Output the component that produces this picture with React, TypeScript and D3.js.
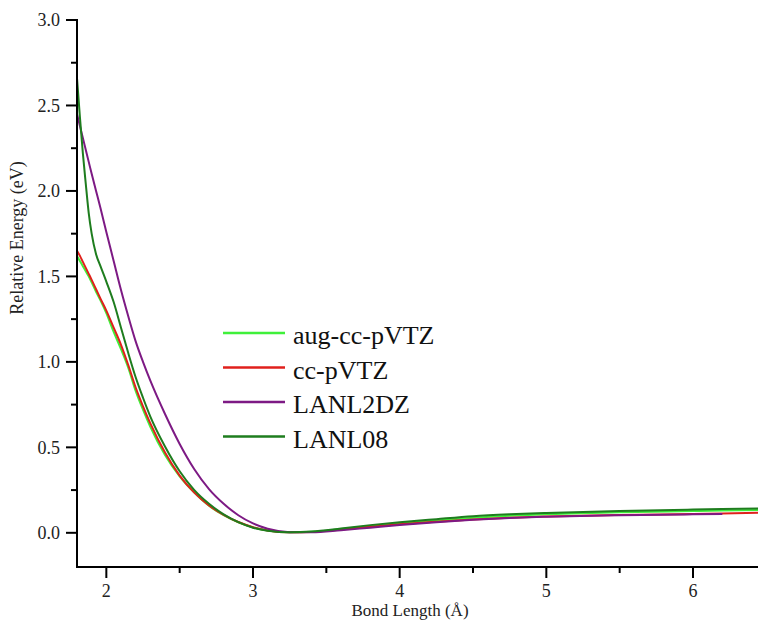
import React from "react";
import * as d3 from "d3";

const xs = [1.8, 1.82, 1.84, 1.86, 1.88, 1.9, 1.93, 1.96, 2.0, 2.05, 2.1, 2.15, 2.2, 2.25, 2.3, 2.4, 2.5, 2.6, 2.7, 2.8, 2.9, 3.0, 3.1, 3.25, 3.4, 3.6, 3.8, 4.0, 4.25, 4.5, 4.75, 5.0, 5.5, 6.0, 6.2, 6.45];

const augccpVTZ = [1.62, 1.59, 1.56, 1.53, 1.50, 1.465, 1.41, 1.36, 1.285, 1.175, 1.075, 0.965, 0.83, 0.72, 0.62, 0.455, 0.33, 0.235, 0.158, 0.103, 0.062, 0.032, 0.014, 0.003, 0.006, 0.022, 0.04, 0.055, 0.072, 0.088, 0.1, 0.108, 0.12, 0.127, 0.13, 0.133];
const ccpVTZ = [1.65, 1.62, 1.585, 1.55, 1.515, 1.48, 1.425, 1.37, 1.30, 1.20, 1.10, 0.98, 0.85, 0.74, 0.64, 0.47, 0.335, 0.235, 0.16, 0.105, 0.063, 0.033, 0.014, 0.003, 0.005, 0.02, 0.035, 0.05, 0.065, 0.078, 0.088, 0.095, 0.104, 0.11, 0.113, 0.118];
const lanl2dzX = xs.filter((x) => x <= 6.2);
const lanl2dz = [2.45, 2.38, 2.31, 2.24, 2.17, 2.1, 2.0, 1.9, 1.76, 1.59, 1.42, 1.265, 1.12, 1.0, 0.89, 0.695, 0.52, 0.372, 0.256, 0.17, 0.103, 0.055, 0.024, 0.004, 0.003, 0.015, 0.03, 0.045, 0.062, 0.076, 0.087, 0.094, 0.103, 0.108, 0.11];
const lanl08 = [2.66, 2.43, 2.22, 2.04, 1.87, 1.75, 1.63, 1.56, 1.47, 1.35, 1.2, 1.05, 0.91, 0.79, 0.68, 0.505, 0.36, 0.25, 0.17, 0.108, 0.062, 0.03, 0.012, 0.003, 0.007, 0.025, 0.045, 0.062, 0.08, 0.097, 0.108, 0.116, 0.128, 0.136, 0.139, 0.143];

const seriesNames = ["aug-cc-pVTZ", "cc-pVTZ", "LANL2DZ", "LANL08"];
const seriesColors = ["#3ff03a", "#e0201c", "#7d1a84", "#1e7d1e"];

const xMajorTicks = [2, 3, 4, 5, 6];
const xMinorTicks = [2.5, 3.5, 4.5, 5.5];
const yMajorTicks = [0, 0.5, 1.0, 1.5, 2.0, 2.5, 3.0];
const yMinorTicks = [0.25, 0.75, 1.25, 1.75, 2.25, 2.75];

const W = 758;
const H = 621;
const left = 77;
const top = 20;
const bottom = 567;
const right = 759;

const font = "'Liberation Serif', 'Times New Roman', Times, serif";
const ts = { fontFamily: font };

export default function App() {
  const x = d3.scaleLinear().domain([1.8, 6.45]).range([left, right]);
  const y = d3.scaleLinear().domain([-0.2, 3.0]).range([bottom, top]);
  const line = d3
    .line<[number, number]>()
    .x((d) => x(d[0]))
    .y((d) => y(d[1]))
    .curve(d3.curveMonotoneX);

  const series = [
    { xv: xs, yv: augccpVTZ },
    { xv: xs, yv: ccpVTZ },
    { xv: lanl2dzX, yv: lanl2dz },
    { xv: xs, yv: lanl08 },
  ];

  const legendY0 = 333;
  const legendDy = 34.5;

  return (
    <svg
      width={W}
      height={H}
      style={{ position: "absolute", left: 0, top: 0, background: "#fff" }}
    >
      <rect x={0} y={0} width={W} height={H} fill="#fff" />
      {series.map((s, i) => (
        <path
          key={i}
          d={line(s.xv.map((v, j) => [v, s.yv[j]] as [number, number])) || ""}
          fill="none"
          stroke={seriesColors[i]}
          strokeWidth={2}
        />
      ))}
      <line x1={left} x2={left} y1={top - 1} y2={bottom + 1} stroke="#000" strokeWidth={2} />
      <line x1={left - 1} x2={W} y1={bottom} y2={bottom} stroke="#000" strokeWidth={2} />
      {yMajorTicks.map((t) => (
        <g key={"ym" + t}>
          <line x1={left - 11} x2={left} y1={y(t)} y2={y(t)} stroke="#000" strokeWidth={2} />
          <text x={left - 17} y={y(t)} dy="0.35em" textAnchor="end" fontSize={18} fill="#222" style={ts}>
            {t.toFixed(1)}
          </text>
        </g>
      ))}
      {yMinorTicks.map((t) => (
        <line key={"yn" + t} x1={left - 6} x2={left} y1={y(t)} y2={y(t)} stroke="#000" strokeWidth={2} />
      ))}
      {xMajorTicks.map((t) => (
        <g key={"xm" + t}>
          <line x1={x(t)} x2={x(t)} y1={bottom} y2={bottom + 11} stroke="#000" strokeWidth={2} />
          <text x={x(t)} y={597} textAnchor="middle" fontSize={18} fill="#222" style={ts}>
            {t}
          </text>
        </g>
      ))}
      {xMinorTicks.map((t) => (
        <line key={"xn" + t} x1={x(t)} x2={x(t)} y1={bottom} y2={bottom + 6} stroke="#000" strokeWidth={2} />
      ))}
      <text x={410} y={616} textAnchor="middle" fontSize={17} fill="#222" style={ts}>
        Bond Length (Å)
      </text>
      <text
        transform={`translate(23,238) rotate(-90)`}
        textAnchor="middle"
        fontSize={18}
        fill="#222"
        style={ts}
      >
        Relative Energy (eV)
      </text>
      {seriesNames.map((n, i) => (
        <g key={n} transform={`translate(0,${legendY0 + i * legendDy})`}>
          <line x1={223} x2={285} y1={0} y2={0} stroke={seriesColors[i]} strokeWidth={2.5} />
          <text x={293} y={11} fontSize={26} fill="#111" style={ts}>
            {n}
          </text>
        </g>
      ))}
    </svg>
  );
}
